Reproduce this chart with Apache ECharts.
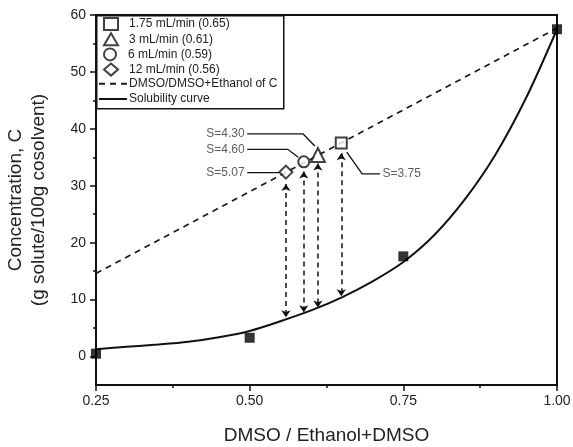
<!DOCTYPE html>
<html>
<head>
<meta charset="utf-8">
<script src="https://cdn.jsdelivr.net/npm/echarts@6/dist/echarts.min.js"></script>
<style>
  html, body { margin: 0; padding: 0; background: #fff; }
  #chart { width: 573px; height: 447px; }
</style>
</head>
<body>
<div id="chart"></div>
<script>
// solubility curve
var curveX = [0.25, 0.30, 0.35, 0.40, 0.45, 0.50, 0.55, 0.60, 0.65, 0.70, 0.75, 0.80, 0.85, 0.90, 0.95, 1.00];
var curveY = [1.3, 1.7, 2.1, 2.6, 3.4, 4.5, 6.2, 8.1, 10.4, 13.2, 16.6, 21.3, 27.6, 35.5, 45.5, 57.5];

// measured solubility points (filled squares)
var solX = [0.25, 0.50, 0.75, 1.00];
var solY = [0.5, 3.3, 17.6, 57.5];

// DMSO/DMSO+Ethanol of C (dashed)
var dashX = [0.25, 1.00];
var dashY = [14.6, 57.7];

// flow-rate points
var flowNames = ['1.75 mL/min (0.65)', '3 mL/min (0.61)', '6 mL/min (0.59)', '12 mL/min (0.56)'];
var flowX = [0.649, 0.611, 0.588, 0.559];
var flowY = [37.5, 35.4, 34.2, 32.4];
var flowSymbols = ['rect', 'triangle', 'circle', 'diamond'];
var flowSizes = [11, 14, 11, 13];

// vertical double arrows (marker -> curve)
var arrowTop = [35.7, 33.9, 32.5, 30.3];
var arrowBottom = [10.6, 8.6, 7.8, 6.9];

// supersaturation labels and their leader lines
var sLabels = ['S=3.75', 'S=4.30', 'S=4.60', 'S=5.07'];
var sSide = ['right', 'left', 'left', 'left'];
var sLeaders = [
  [[0.712, 32.1], [0.683, 32.1], [0.658, 35.9]],
  [[0.496, 39.1], [0.587, 39.1], [0.606, 37.0]],
  [[0.496, 36.4], [0.562, 36.4], [0.579, 35.0]],
  [[0.496, 32.3], [0.549, 32.3]]
];

var lineNames = ['DMSO/DMSO+Ethanol of C', 'Solubility curve'];
var yTicks = [0, 10, 20, 30, 40, 50, 60];
var yMinor = [5, 15, 25, 35, 45, 55];

var font = 'Arial, "Liberation Sans", sans-serif';
var ink = '#111';

var series = [];

series.push({
  name: lineNames[0],
  type: 'line',
  data: dashX.map(function (x, i) { return [x, dashY[i]]; }),
  symbol: 'none',
  lineStyle: { color: '#1a1a1a', width: 1.7, type: [6, 5] },
  itemStyle: { color: '#1a1a1a' },
  z: 2
});

series.push({
  name: lineNames[1],
  type: 'line',
  data: curveX.map(function (x, i) { return [x, curveY[i]]; }),
  symbol: 'none',
  smooth: 0.3,
  lineStyle: { color: ink, width: 2 },
  itemStyle: { color: ink },
  z: 3
});

series.push({
  name: 'data',
  type: 'scatter',
  data: solX.map(function (x, i) { return [x, solY[i]]; }),
  symbol: 'rect',
  symbolSize: 10,
  itemStyle: { color: '#000' },
  z: 4
});

series.push({
  type: 'lines',
  coordinateSystem: 'cartesian2d',
  symbol: ['arrow', 'arrow'],
  symbolSize: 7,
  lineStyle: { color: ink, width: 1.5, type: [5, 4], opacity: 1 },
  data: flowX.map(function (x, i) { return { coords: [[x, arrowTop[i]], [x, arrowBottom[i]]] }; }),
  z: 3
});

series.push({
  type: 'lines',
  coordinateSystem: 'cartesian2d',
  polyline: true,
  symbol: ['none', 'arrow'],
  symbolSize: 7,
  lineStyle: { color: ink, width: 1.3, opacity: 1 },
  data: sLeaders.map(function (p) { return { coords: p }; }),
  z: 3
});

series.push({
  type: 'scatter',
  symbolSize: 1,
  itemStyle: { color: 'rgba(0,0,0,0)' },
  silent: true,
  data: sLeaders.map(function (p, i) {
    return {
      value: [p[0][0], p[0][1]],
      label: {
        show: true,
        position: sSide[i],
        distance: 2,
        formatter: sLabels[i],
        fontSize: 12,
        fontFamily: font,
        color: '#333'
      }
    };
  }),
  z: 5
});

flowNames.forEach(function (n, i) {
  series.push({
    name: n,
    type: 'scatter',
    data: [[flowX[i], flowY[i]]],
    symbol: flowSymbols[i],
    symbolSize: flowSizes[i],
    itemStyle: { color: '#fff', borderColor: ink, borderWidth: 2 },
    z: 6
  });
});

// one legend component per row so the rows sit at a fixed step
var rowStep = 15.2;
var legends = [];
flowNames.forEach(function (n, i) {
  legends.push({
    data: [n],
    left: 103, top: 17 + i * rowStep,
    padding: 0,
    itemWidth: 14, itemHeight: 12,
    selectedMode: false,
    z: 60,
    textStyle: { fontSize: 12, color: '#222', fontFamily: font, padding: [0, 0, 0, 6] }
  });
});
lineNames.forEach(function (n, i) {
  legends.push({
    data: [{ name: n, itemStyle: { color: 'rgba(0,0,0,0)', borderWidth: 0 } }],
    left: 98, top: 17 + (4 + i) * rowStep,
    padding: 0,
    itemWidth: 28, itemHeight: 12,
    selectedMode: false,
    z: 60,
    textStyle: { fontSize: 12, color: '#222', fontFamily: font, padding: [0, 0, 0, -3] }
  });
});

var chart = echarts.init(document.getElementById('chart'));
chart.setOption({
  animation: false,
  backgroundColor: '#fff',
  textStyle: { fontFamily: font },
  grid: {
    left: 96, right: 16, top: 15, bottom: 62,
    outerBoundsMode: 'none',
    containLabel: false,
    show: true, borderColor: ink, borderWidth: 2
  },
  graphic: [{
    type: 'rect',
    left: 96, top: 15,
    shape: { width: 187, height: 93 },
    style: { fill: '#fff', stroke: ink, lineWidth: 1.5 },
    z: 50
  }],
  legend: legends,
  xAxis: {
    type: 'value',
    min: 0.25, max: 1.0, interval: 0.25,
    name: 'DMSO / Ethanol+DMSO',
    nameLocation: 'middle',
    nameGap: 41,
    nameTextStyle: { fontSize: 19, color: '#222', fontFamily: font },
    axisLine: { onZero: false, lineStyle: { color: ink, width: 2 } },
    axisTick: { length: 6, lineStyle: { color: ink, width: 1.5 } },
    minorTick: { show: true, splitNumber: 2, length: 3, lineStyle: { color: ink, width: 1.5 } },
    splitLine: { show: false },
    axisLabel: {
      fontSize: 14, color: '#222', margin: 9,
      formatter: function (v) { return v.toFixed(2); }
    }
  },
  yAxis: [{
    type: 'value',
    min: -5, max: 60,
    name: 'Concentration, C\n(g solute/100g cosolvent)',
    nameLocation: 'middle',
    nameGap: 46,
    nameTextStyle: { fontSize: 19, lineHeight: 23, color: '#222', fontFamily: font },
    axisLine: { onZero: false, lineStyle: { color: ink, width: 2 } },
    axisTick: { length: 6, customValues: yTicks, lineStyle: { color: ink, width: 1.5 } },
    axisLabel: { fontSize: 14, color: '#222', margin: 10, customValues: yTicks },
    splitLine: { show: false }
  }, {
    type: 'value',
    position: 'left',
    min: -5, max: 60,
    axisLine: { show: false, onZero: false },
    axisTick: { length: 3, customValues: yMinor, lineStyle: { color: ink, width: 1.5 } },
    axisLabel: { show: false },
    splitLine: { show: false }
  }],
  series: series
});
</script>
</body>
</html>
